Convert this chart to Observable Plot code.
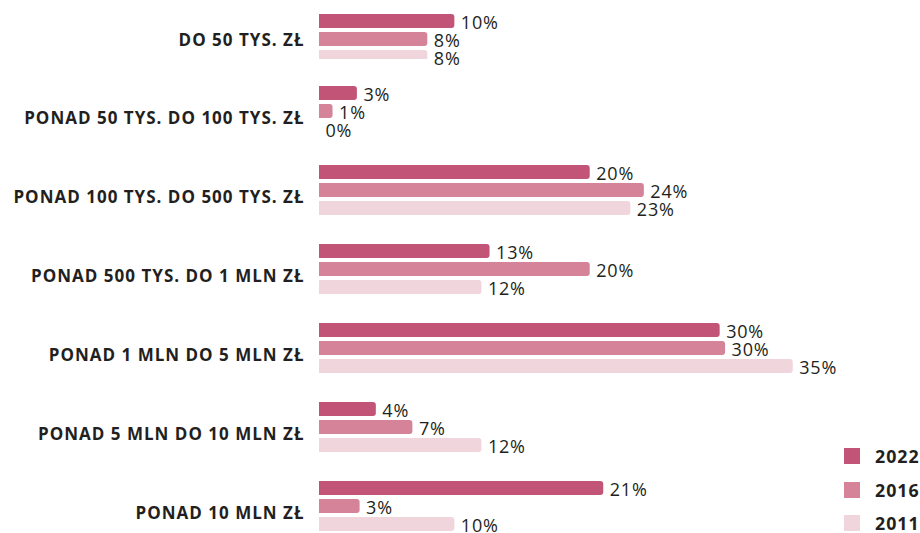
<!DOCTYPE html>
<html>
<head>
<meta charset="utf-8">
<script src="https://cdn.jsdelivr.net/npm/d3@7"></script>
<script src="https://cdn.jsdelivr.net/npm/@observablehq/plot@0.6"></script>
<style>
  html, body { margin: 0; padding: 0; overflow: hidden; background: #fff; }
  #wrap { position: relative; width: 920px; height: 533px; overflow: hidden; }
  #legend { position: absolute; left: 844px; top: 448px; font-family: "Open Sans", sans-serif; font-weight: 700; font-size: 17.8px; letter-spacing: 1px; color: #231f20; }
  .li { position: relative; height: 33.5px; }
  .li span.sw { position: absolute; left: 0; top: 0; width: 16px; height: 16px; }
  .li span.tx { position: absolute; left: 31px; top: -5px; line-height: 26px; white-space: nowrap; }
  g[aria-label="fy-axis tick label"] text { letter-spacing: 1px; }
  g.vals text { letter-spacing: 0.8px; }
</style>
</head>
<body>
<div id="wrap"><div id="chart"></div><div id="legend"></div></div>
<script>
const categories = [
  "DO 50 TYS. ZŁ",
  "PONAD 50 TYS. DO 100 TYS. ZŁ",
  "PONAD 100 TYS. DO 500 TYS. ZŁ",
  "PONAD 500 TYS. DO 1 MLN ZŁ",
  "PONAD 1 MLN DO 5 MLN ZŁ",
  "PONAD 5 MLN DO 10 MLN ZŁ",
  "PONAD 10 MLN ZŁ"
];
const years = ["2022", "2016", "2011"];
const colors = ["#c25577", "#d48398", "#f0d5dc"];
const values2022 = [10, 2.8, 20, 12.6, 29.6, 4.2, 21];
const values2016 = [8, 1, 24, 20, 30, 6.9, 3];
const values2011 = [8, 0, 23, 12, 35, 12, 10];
const labels2022 = ["10%", "3%", "20%", "13%", "30%", "4%", "21%"];
const labels2016 = ["8%", "1%", "24%", "20%", "30%", "7%", "3%"];
const labels2011 = ["8%", "0%", "23%", "12%", "35%", "12%", "10%"];

const series = [[values2022, labels2022], [values2016, labels2016], [values2011, labels2011]];
const data = [];
categories.forEach((c, i) => {
  years.forEach((y, j) => {
    data.push({cat: c, year: y, value: series[j][0][i], label: series[j][1][i]});
  });
});
const first = data.filter(d => d.cat === categories[0]);
const rest = data.filter(d => d.cat !== categories[0]);

const firstShift = 7;
const barOpts = {x: "value", y: "year", fy: "cat", fill: "year", rx: 3, insetLeft: -4, clip: true};
const txtOpts = {x: "value", y: "year", fy: "cat", text: "label", dx: 6, textAnchor: "start", fontSize: 18, fontWeight: 500, fill: "#231f20", className: "vals"};
const axOpts = {tickSize: 0, tickPadding: 15, fontSize: 17, fontWeight: "bold", fill: "#231f20", label: null, anchor: "left"};

const chart = Plot.plot({
  width: 920,
  height: 540,
  marginLeft: 319,
  marginRight: 0,
  marginTop: 5,
  marginBottom: 5.7,
  style: {fontFamily: "'Open Sans', sans-serif", background: "transparent", overflow: "visible"},
  x: {domain: [0, 44.4], axis: null},
  y: {domain: years, paddingInner: 0.21, paddingOuter: 0, axis: null},
  fy: {domain: categories, paddingInner: 0.3325, paddingOuter: 0, axis: null},
  color: {domain: years, range: colors},
  marks: [
    Plot.barX(first, {...barOpts, dy: firstShift}),
    Plot.barX(rest, barOpts),
    Plot.text(first, {...txtOpts, dy: firstShift + 1.8}),
    Plot.text(rest, {...txtOpts, dy: 1.3}),
    Plot.axisFy({...axOpts, ticks: [categories[0]], dy: 8}),
    Plot.axisFy({...axOpts, ticks: categories.slice(1), dy: 6.5})
  ]
});
document.getElementById("chart").appendChild(chart);

const legend = document.getElementById("legend");
years.forEach((y, i) => {
  const d = document.createElement("div");
  d.className = "li";
  d.innerHTML = `<span class="sw" style="background:${colors[i]}"></span><span class="tx">${y}</span>`;
  legend.appendChild(d);
});
</script>
</body>
</html>
